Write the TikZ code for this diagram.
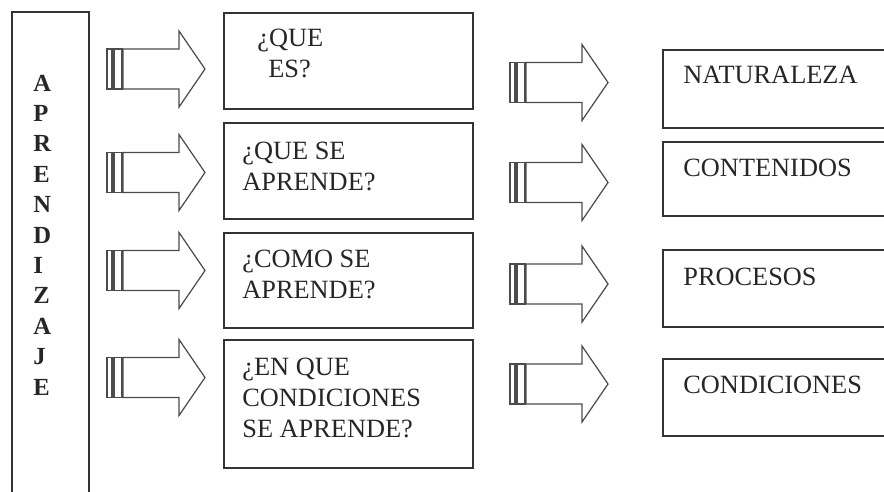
\documentclass[tikz,border=0pt]{standalone}
\usepackage{fontspec}
\setmainfont{Liberation Serif}
\tikzset{
	box/.style = {rectangle, draw=black!80, line width=1.1pt, anchor=north west, inner sep=0pt},
	boxtext/.style = {anchor=west, align=left, inner sep=0pt, font=\fontsize{15}{17.6}\selectfont, text=black!85},
	arrowline/.style = {draw=black!70, line width=0.7pt, fill=white},
	stripearrow/.pic = {
		\draw[arrowline] (0,-20) rectangle (5,20);
		\draw[arrowline] (7,-20) rectangle (15,20);
		\draw[arrowline] (16,-20) -- (72,-20) -- (72,-38) -- (98,0) -- (72,38) -- (72,20) -- (16,20) -- cycle;
	}
}
\begin{document}
\begin{tikzpicture}[x=0.02cm, y=-0.02cm]
	\useasboundingbox (0,0) rectangle (884,491);
	\clip (0,0) rectangle (884,491);
	% left column
	\node (apr) at (11,11)	[box, minimum width=1.54cm, minimum height=10cm]	{};
	\node (word) at (33,235)	[anchor=west, align=left, inner sep=0pt, font=\bfseries\fontsize{14}{17.3}\selectfont, text=black!85]	{A\\P\\R\\E\\N\\D\\I\\Z\\A\\J\\E};
	% questions
	\node (q1) at (223, 12)	[box, minimum width=4.98cm, minimum height=1.92cm]	{};
	\node (q2) at (223,122)	[box, minimum width=4.98cm, minimum height=1.92cm]	{};
	\node (q3) at (223,232)	[box, minimum width=4.98cm, minimum height=1.90cm]	{};
	\node (q4) at (223,339)	[box, minimum width=4.98cm, minimum height=2.56cm]	{};
	\node (t1) at (257, 53)	[boxtext]	{¿QUE\\\hspace*{0.22cm}ES?};
	\node (t2) at (242,166)	[boxtext]	{¿QUE SE\\APRENDE?};
	\node (t3) at (242,274)	[boxtext]	{¿COMO SE\\APRENDE?};
	\node (t4) at (242,398)	[boxtext]	{¿EN QUE\\CONDICIONES\\SE APRENDE?};
	% answers
	\node (r1) at (662, 49)	[box, minimum width=5cm, minimum height=1.56cm]	{};
	\node (r2) at (662,141)	[box, minimum width=5cm, minimum height=1.48cm]	{};
	\node (r3) at (662,249)	[box, minimum width=5cm, minimum height=1.54cm]	{};
	\node (r4) at (662,358)	[box, minimum width=5cm, minimum height=1.54cm]	{};
	\node (s1) at (683, 75)	[boxtext]	{NATURALEZA};
	\node (s2) at (683,168)	[boxtext]	{CONTENIDOS};
	\node (s3) at (683,277)	[boxtext]	{PROCESOS};
	\node (s4) at (683,385)	[boxtext]	{CONDICIONES};
	% block arrows
	\pic at (107, 69)	{stripearrow};
	\pic at (107,172.5)	{stripearrow};
	\pic at (107,270.5)	{stripearrow};
	\pic at (107,377.5)	{stripearrow};
	\pic at (510, 82.5)	{stripearrow};
	\pic at (510,182.5)	{stripearrow};
	\pic at (510,284)	{stripearrow};
	\pic at (510,384)	{stripearrow};
\end{tikzpicture}
\end{document}
